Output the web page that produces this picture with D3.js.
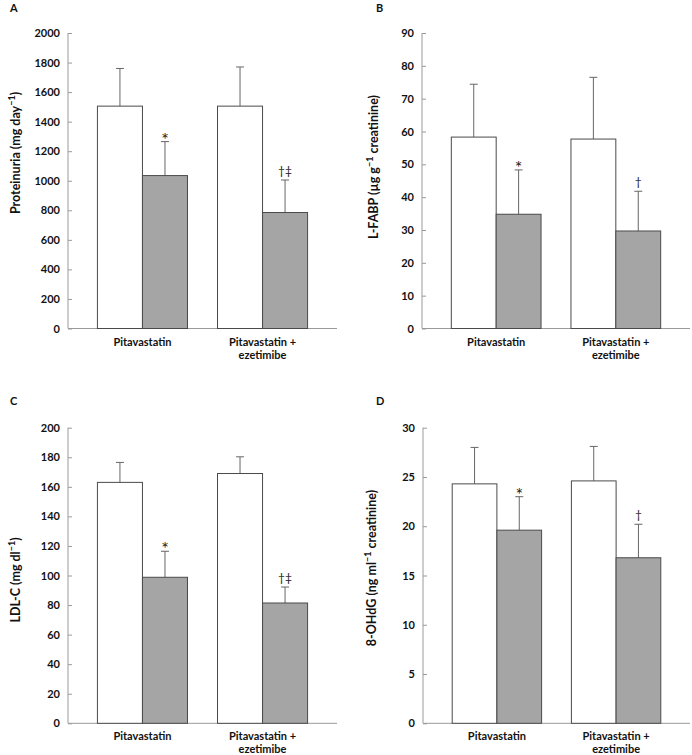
<!DOCTYPE html>
<html>
<head>
<meta charset="utf-8">
<script src="https://cdn.jsdelivr.net/npm/d3@7"></script>
<style>
  html, body { margin: 0; padding: 0; background: #fff; }
  svg { display: block; }
  text { font-family: Lato, "Open Sans", sans-serif; }
</style>
</head>
<body>
<svg id="chart" width="692" height="755"></svg>
<script>
// ---- data ----
const groups = ["Pitavastatin", "Pitavastatin + ezetimibe"];
const seriesNames = ["Before", "After"];

const proteinuriaBefore = [1505, 1505];
const proteinuriaBeforeSD = [255, 265];
const proteinuriaAfter = [1035, 785];
const proteinuriaAfterSD = [230, 220];
const proteinuriaMarks = ["*", "†‡"];
const proteinuriaTicks = [0, 200, 400, 600, 800, 1000, 1200, 1400, 1600, 1800, 2000];

const lfabpBefore = [58.3, 57.7];
const lfabpBeforeSD = [16.1, 18.8];
const lfabpAfter = [34.8, 29.7];
const lfabpAfterSD = [13.5, 12.1];
const lfabpMarks = ["*", "†"];
const lfabpTicks = [0, 10, 20, 30, 40, 50, 60, 70, 80, 90];

const ldlBefore = [163, 169];
const ldlBeforeSD = [13.5, 11.3];
const ldlAfter = [98.8, 81.4];
const ldlAfterSD = [17.6, 10.8];
const ldlMarks = ["*", "†‡"];
const ldlTicks = [0, 20, 40, 60, 80, 100, 120, 140, 160, 180, 200];

const ohdgBefore = [24.3, 24.6];
const ohdgBeforeSD = [3.7, 3.5];
const ohdgAfter = [19.6, 16.8];
const ohdgAfterSD = [3.4, 3.4];
const ohdgMarks = ["*", "†"];
const ohdgTicks = [0, 5, 10, 15, 20, 25, 30];

// ---- panels ----
const panels = [
  { letter: "A", label: ["Proteinuria (mg day", "−1", ")"], before: proteinuriaBefore, beforeSD: proteinuriaBeforeSD,
    after: proteinuriaAfter, afterSD: proteinuriaAfterSD, marks: proteinuriaMarks, ticks: proteinuriaTicks,
    x0: 68, x1: 337, y0: 33, y1: 328.5, letterPos: [10, 12], labelPos: [20, 153] },
  { letter: "B", label: ["L-FABP (µg g", "−1", " creatinine)"], before: lfabpBefore, beforeSD: lfabpBeforeSD,
    after: lfabpAfter, afterSD: lfabpAfterSD, marks: lfabpMarks, ticks: lfabpTicks,
    x0: 422, x1: 690, y0: 33, y1: 328.5, letterPos: [376, 12], labelPos: [378, 167] },
  { letter: "C", label: ["LDL-C (mg dl", "−1", ")"], before: ldlBefore, beforeSD: ldlBeforeSD,
    after: ldlAfter, afterSD: ldlAfterSD, marks: ldlMarks, ticks: ldlTicks,
    x0: 68, x1: 337, y0: 427.7, y1: 723.3, letterPos: [10, 405], labelPos: [20, 580] },
  { letter: "D", label: ["8-OHdG (ng ml", "−1", " creatinine)"], before: ohdgBefore, beforeSD: ohdgBeforeSD,
    after: ohdgAfter, afterSD: ohdgAfterSD, marks: ohdgMarks, ticks: ohdgTicks,
    x0: 423, x1: 690, y0: 427.7, y1: 723.3, letterPos: [376, 405], labelPos: [376, 568] }
];

const svg = d3.select("#chart");
const fills = ["#ffffff", "#a5a5a5"];
const axisColor = "#9a9a9a";

panels.forEach(p => {
  const g = svg.append("g");
  const ymax = d3.max(p.ticks);
  const y = d3.scaleLinear().domain([0, ymax]).range([p.y1, p.y0]);
  const x = d3.scaleBand().domain(groups).range([p.x0, p.x1]).paddingInner(0.25).paddingOuter(0.245);
  const xs = d3.scaleBand().domain(seriesNames).range([0, x.bandwidth()]);

  g.append("text").attr("x", p.letterPos[0]).attr("y", p.letterPos[1])
    .attr("font-size", 11).attr("font-weight", "bold").attr("fill", "#111").text(p.letter);

  const yAxis = d3.axisRight(y).tickValues(p.ticks).tickSize(4).tickFormat(d3.format("d"));
  const ya = g.append("g").attr("transform", `translate(${p.x0},0)`).call(yAxis);
  ya.select(".domain").attr("stroke", axisColor).attr("d", `M0,${p.y0}V${p.y1}`);
  ya.selectAll(".tick line").attr("stroke", axisColor);
  ya.selectAll(".tick text").attr("x", -8).attr("text-anchor", "end")
    .attr("font-size", 11).attr("font-weight", "bold").attr("fill", "#111").attr("font-family", "Lato, sans-serif");

  const xAxis = d3.axisBottom(x).tickSize(0).tickFormat("");
  const xa = g.append("g").attr("transform", `translate(0,${p.y1})`).call(xAxis);
  xa.select(".domain").attr("stroke", axisColor).attr("d", `M${p.x0},0H${p.x1}`);

  groups.forEach(gr => {
    const cx = x(gr) + x.bandwidth() / 2;
    const parts = gr === "Pitavastatin + ezetimibe" ? ["Pitavastatin +", "ezetimibe"] : [gr];
    parts.forEach((t, i) => {
      g.append("text").attr("x", cx).attr("y", p.y1 + 17 + i * 13)
        .attr("text-anchor", "middle").attr("font-size", 11).attr("font-weight", "bold")
        .attr("fill", "#111").text(t);
    });
  });

  const rows = [];
  groups.forEach((gr, i) => {
    rows.push({ gr, s: "Before", v: p.before[i], sd: p.beforeSD[i], mark: null, fill: fills[0] });
    rows.push({ gr, s: "After", v: p.after[i], sd: p.afterSD[i], mark: p.marks[i], fill: fills[1] });
  });

  rows.forEach(r => {
    const cx = x(r.gr) + xs(r.s) + xs.bandwidth() / 2;
    g.append("line").attr("x1", cx).attr("x2", cx).attr("y1", y(r.v)).attr("y2", y(r.v + r.sd))
      .attr("stroke", "#666").attr("stroke-width", 1);
    g.append("line").attr("x1", cx - 4).attr("x2", cx + 4).attr("y1", y(r.v + r.sd)).attr("y2", y(r.v + r.sd))
      .attr("stroke", "#666").attr("stroke-width", 1);
    if (r.mark) {
      const star = r.mark === "*";
      g.append("text").attr("x", cx).attr("y", y(r.v + r.sd) + (star ? 4 : -5))
        .attr("text-anchor", "middle").attr("font-size", star ? 18 : 12)
        .attr("font-family", "'DejaVu Sans', sans-serif").attr("fill", "#222").text(r.mark);
    }
  });

  g.selectAll("rect.bar").data(rows).join("rect").attr("class", "bar")
    .attr("x", r => x(r.gr) + xs(r.s))
    .attr("y", r => y(r.v))
    .attr("width", xs.bandwidth())
    .attr("height", r => y(0) - y(r.v))
    .attr("fill", r => r.fill)
    .attr("stroke", "#4a4a4a").attr("stroke-width", 1);

  const lt = g.append("text")
    .attr("transform", `translate(${p.labelPos[0]},${p.labelPos[1]}) rotate(-90)`)
    .attr("text-anchor", "middle").attr("font-size", 12.5).attr("font-weight", "bold").attr("fill", "#111");
  lt.append("tspan").text(p.label[0]);
  lt.append("tspan").attr("dy", -5).attr("font-size", 9).text(p.label[1]);
  lt.append("tspan").attr("dy", 5).text(p.label[2]);
});
</script>
</body>
</html>
